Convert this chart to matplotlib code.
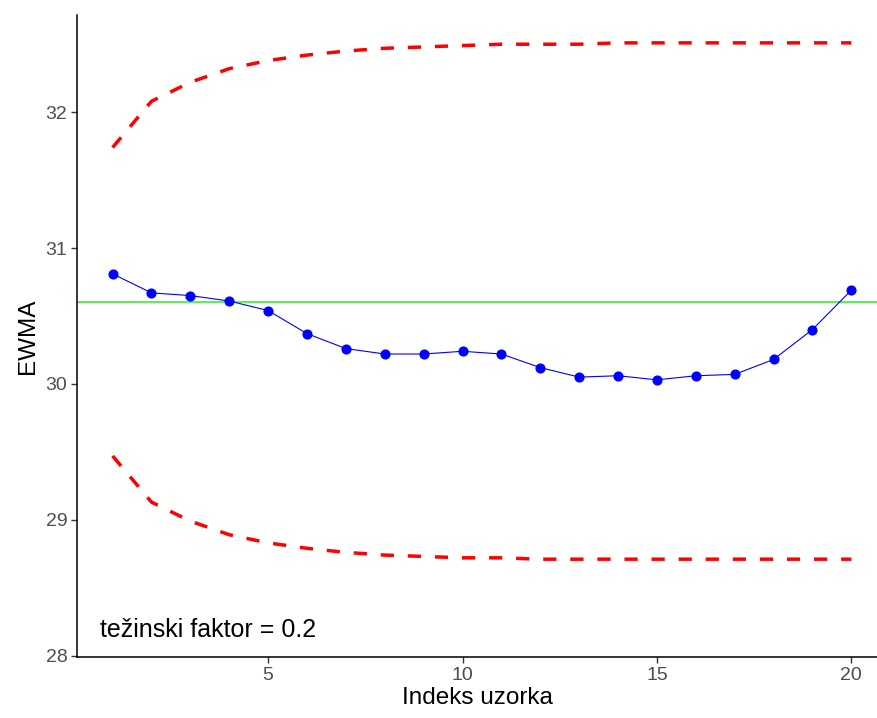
import matplotlib
matplotlib.use("Agg")
import matplotlib.pyplot as plt

plt.rcParams['font.family'] = ['Liberation Sans', 'DejaVu Sans']

index = list(range(1, 21))
ewma = [30.81, 30.67, 30.65, 30.61, 30.54, 30.37, 30.26, 30.22, 30.22, 30.24,
        30.22, 30.12, 30.05, 30.06, 30.03, 30.06, 30.07, 30.18, 30.40, 30.69]
center = 30.60
ucl = [31.74, 32.08, 32.22, 32.32, 32.38, 32.42, 32.45, 32.47, 32.48, 32.49,
       32.50, 32.50, 32.50, 32.51, 32.51, 32.51, 32.51, 32.51, 32.51, 32.51]
lcl = [29.47, 29.13, 28.99, 28.89, 28.83, 28.79, 28.76, 28.74, 28.73, 28.72,
       28.72, 28.71, 28.71, 28.71, 28.71, 28.71, 28.71, 28.71, 28.71, 28.71]
xticks = [5, 10, 15, 20]
yticks = [28, 29, 30, 31, 32]
label = "težinski faktor = 0.2"

fig = plt.figure(figsize=(8.77, 7.18), dpi=100)
ax = fig.add_axes([77/877, 1-657/718, 1-77/877, (657-15)/718])

dash = (0, (3.8, 4.0))
ax.plot(index, ucl, color='red', lw=2.5, linestyle=dash)
ax.plot(index, lcl, color='red', lw=2.5, linestyle=dash)
ax.axhline(center, color='#00EE00', lw=1.1, alpha=0.85)
ax.plot(index, ewma, color='blue', lw=0.8, marker='o', markersize=6.3)
ax.text(0.68, 28.19, label, fontsize=18, ha='left', va='center', color='black')

ax.set_xlim(0.085, 20.66)
ax.set_ylim(27.99, 32.715)
ax.set_xticks(xticks)
ax.set_yticks(yticks)
for s in ['top', 'right']:
    ax.spines[s].set_visible(False)
for s in ['left', 'bottom']:
    ax.spines[s].set_linewidth(1.1)
    ax.spines[s].set_color('black')
ax.tick_params(axis='both', direction='out', length=4, width=1, color='#333333',
               labelcolor='#4D4D4D', labelsize=14, pad=3)
ax.set_xlabel("Indeks uzorka", fontsize=17.5, color='black', labelpad=2)
ax.set_ylabel("EWMA", fontsize=17.5, color='black', labelpad=5)

fig.savefig("out.png", dpi=100)
